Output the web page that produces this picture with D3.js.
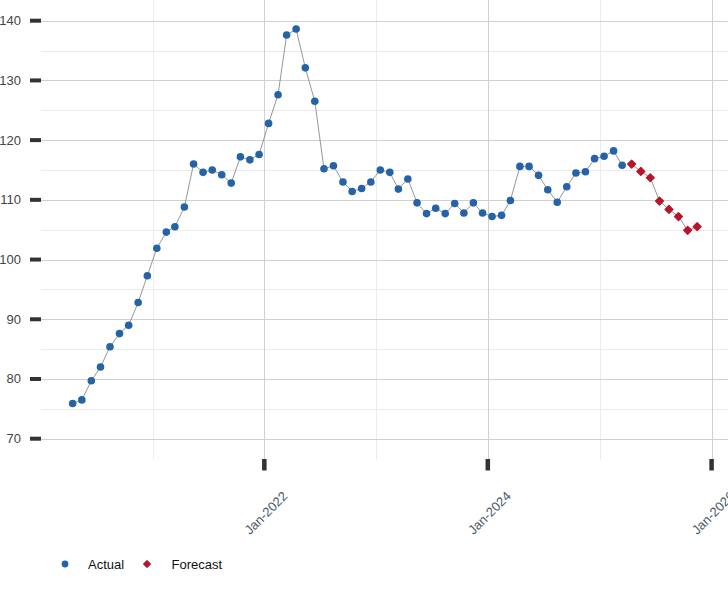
<!DOCTYPE html>
<html>
<head>
<meta charset="utf-8">
<script src="https://cdn.jsdelivr.net/npm/d3@7"></script>
<style>
  html, body { margin: 0; padding: 0; background: #fff; }
  svg { display: block; font-family: "Liberation Sans", Arial, sans-serif; }
</style>
</head>
<body>
<svg id="chart" width="728" height="600"></svg>
<script>
// ---- data ----
const actualStart = [2020, 3];   // April 2020 (month index 3)
const actualValues = [
  75.9, 76.5, 79.7, 82.0, 85.4, 87.6, 89.0, 92.8, 97.3,
  101.9, 104.6, 105.5, 108.8, 116.0, 114.6, 115.0, 114.2, 112.8, 117.2, 116.7, 117.6,
  122.8, 127.6, 137.6, 138.6, 132.1, 126.5, 115.2, 115.7, 113.0, 111.4, 111.9, 113.0,
  115.0, 114.6, 111.8, 113.5, 109.5, 107.7, 108.6, 107.7, 109.4, 107.8, 109.5, 107.8,
  107.2, 107.4, 109.9, 115.6, 115.6, 114.1, 111.7, 109.6, 112.2, 114.5, 114.7, 116.9,
  117.3, 118.2, 115.8
];
const forecastStart = [2025, 3]; // April 2025
const forecastValues = [116.0, 114.75, 113.7, 109.8, 108.4, 107.2, 104.9, 105.5];
const yTicks = [70, 80, 90, 100, 110, 120, 130, 140];
const yMinorTicks = [75, 85, 95, 105, 115, 125, 135];
const xMajorYears = [2022, 2024, 2026];
const xMinorYears = [2021, 2023, 2025];
const legendItems = ["Actual", "Forecast"];

const colActual = "#2563a8";
const colForecast = "#b8142c";

function series(start, values) {
  return values.map((v, i) => ({ date: new Date(start[0], start[1] + i, 15), value: v }));
}
const actual = series(actualStart, actualValues);
const forecast = series(forecastStart, forecastValues);

// ---- layout ----
const svg = d3.select("#chart");
const plotLeft = 41, plotTop = 0, plotBottom = 459;

const x = d3.scaleTime()
  .domain([new Date(2020, 0, 1), new Date(2026, 2, 1)])
  .range([40.5, 729.6]);
const y = d3.scaleLinear().domain([70, 140]).range([438.7, 20.7]);

const grid = svg.append("g");
grid.selectAll(".hmin").data(yMinorTicks).join("line")
  .attr("x1", plotLeft).attr("x2", 728)
  .attr("y1", d => Math.round(y(d)) + 0.5).attr("y2", d => Math.round(y(d)) + 0.5)
  .attr("stroke", "#ebebeb").attr("stroke-width", 1);
grid.selectAll(".vmin").data(xMinorYears).join("line")
  .attr("x1", d => Math.round(x(new Date(d, 0, 1))) + 0.5)
  .attr("x2", d => Math.round(x(new Date(d, 0, 1))) + 0.5)
  .attr("y1", plotTop).attr("y2", plotBottom)
  .attr("stroke", "#ebebeb").attr("stroke-width", 1);
grid.selectAll(".hmaj").data(yTicks).join("line")
  .attr("x1", plotLeft).attr("x2", 728)
  .attr("y1", d => Math.round(y(d)) + 0.5).attr("y2", d => Math.round(y(d)) + 0.5)
  .attr("stroke", "#d0d0d0").attr("stroke-width", 1);
grid.selectAll(".vmaj").data(xMajorYears).join("line")
  .attr("x1", d => Math.round(x(new Date(d, 0, 1))) + 0.5)
  .attr("x2", d => Math.round(x(new Date(d, 0, 1))) + 0.5)
  .attr("y1", plotTop).attr("y2", plotBottom)
  .attr("stroke", "#d0d0d0").attr("stroke-width", 1);

// y axis ticks & labels
const yAxis = svg.append("g");
yAxis.selectAll("rect").data(yTicks).join("rect")
  .attr("x", 30).attr("width", 11)
  .attr("y", d => y(d) - 2).attr("height", 4)
  .attr("fill", "#333");
yAxis.selectAll("text").data(yTicks).join("text")
  .attr("x", 21).attr("y", d => y(d) + 4.5)
  .attr("text-anchor", "end")
  .attr("font-size", 13).attr("fill", "#444")
  .text(d => d);

// x axis ticks & labels
const fmt = d3.timeFormat("%b-%Y");
const xAxis = svg.append("g");
xAxis.selectAll("rect").data(xMajorYears).join("rect")
  .attr("x", d => x(new Date(d, 0, 1)) - 2.2).attr("width", 4.5)
  .attr("y", plotBottom).attr("height", 11.5)
  .attr("fill", "#333");
xAxis.selectAll("text").data(xMajorYears).join("text")
  .attr("transform", d => `translate(${x(new Date(d, 0, 1)) + 24},${plotBottom + 38}) rotate(-45)`)
  .attr("text-anchor", "end")
  .attr("font-size", 13).attr("fill", "#4a5a6a")
  .text(d => fmt(new Date(d, 0, 1)));

// lines
const line = d3.line().x(d => x(d.date)).y(d => y(d.value));
svg.append("path").datum(actual).attr("d", line)
  .attr("fill", "none").attr("stroke", "#8a8a8a").attr("stroke-width", 0.9);
svg.append("path").datum(forecast).attr("d", line)
  .attr("fill", "none").attr("stroke", "#8a8a8a").attr("stroke-width", 0.9);

// markers
svg.append("g").selectAll("circle").data(actual).join("circle")
  .attr("cx", d => x(d.date)).attr("cy", d => y(d.value)).attr("r", 3.8)
  .attr("fill", colActual);
const diamond = d3.symbol().type(d3.symbolSquare).size(30);
svg.append("g").selectAll("path").data(forecast).join("path")
  .attr("d", diamond)
  .attr("transform", d => `translate(${x(d.date)},${y(d.value)}) rotate(45)`)
  .attr("fill", colForecast).attr("stroke", colForecast)
  .attr("stroke-width", 1.4).attr("stroke-linejoin", "round");

// legend
const legend = svg.append("g");
legend.append("circle").attr("cx", 65).attr("cy", 564).attr("r", 3.4).attr("fill", colActual);
legend.append("text").attr("x", 88).attr("y", 569).attr("font-size", 13).attr("fill", "#111").text(legendItems[0]);
legend.append("path").attr("d", d3.symbol().type(d3.symbolSquare).size(22))
  .attr("transform", "translate(147,564) rotate(45)")
  .attr("fill", colForecast).attr("stroke", colForecast).attr("stroke-width", 1.2).attr("stroke-linejoin", "round");
legend.append("text").attr("x", 171.5).attr("y", 569).attr("font-size", 13).attr("fill", "#111").text(legendItems[1]);
</script>
</body>
</html>
